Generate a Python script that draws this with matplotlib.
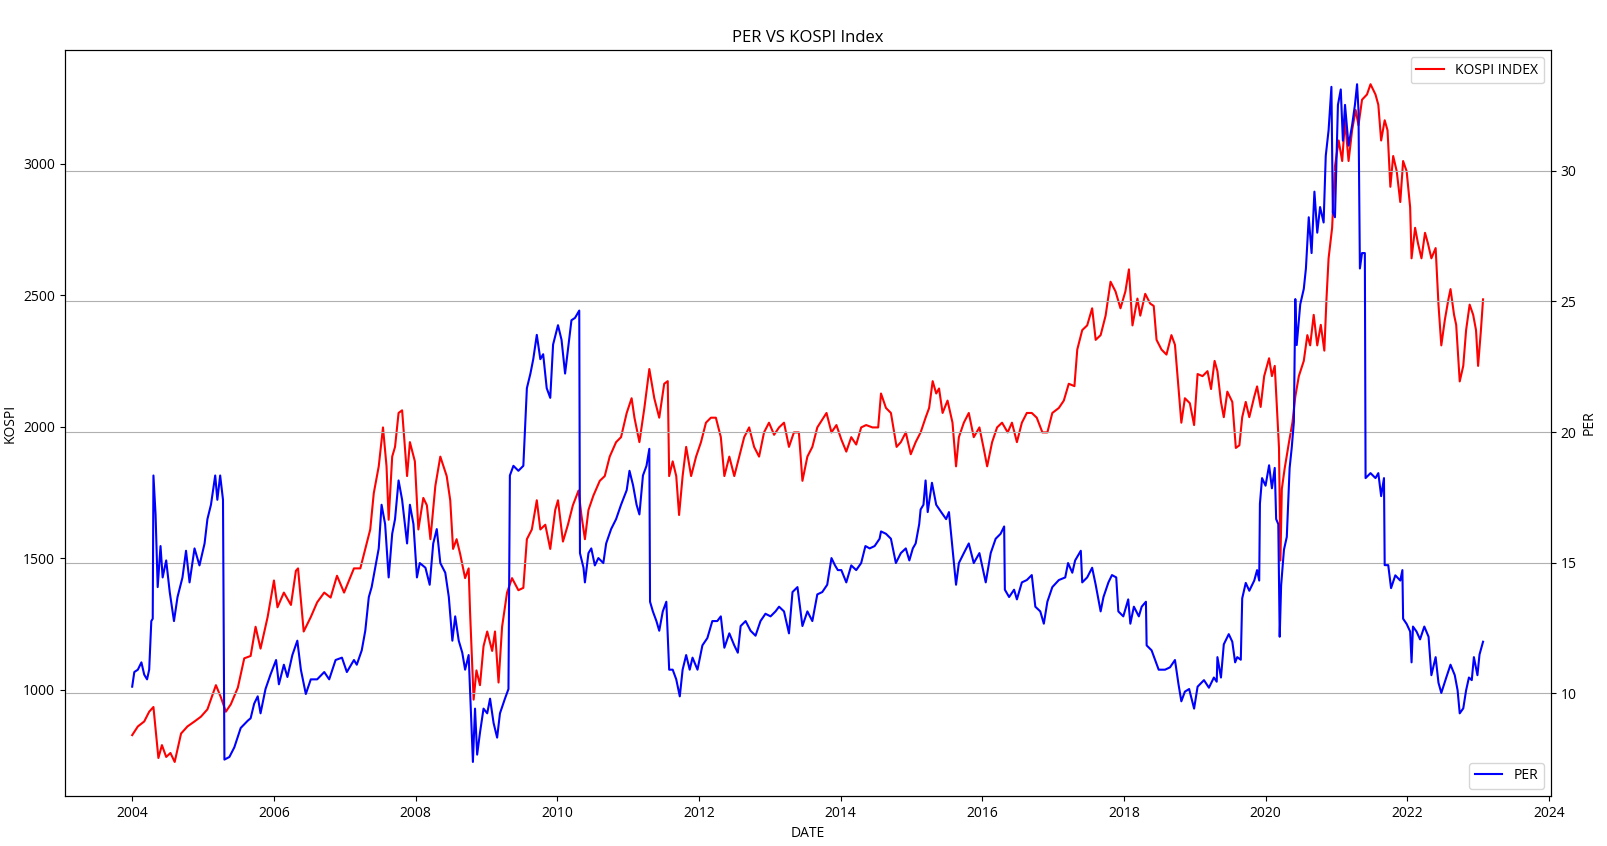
import numpy as np
import pandas as pd
import matplotlib
matplotlib.use("Agg")
import matplotlib.pyplot as plt
import matplotlib.dates as mdates

plt.rcParams['font.family'] = ['Open Sans', 'DejaVu Sans']

# KOSPI index (decimal year, value)
kospi_t = [2004.00, 2004.08, 2004.17, 2004.24, 2004.30, 2004.37, 2004.42, 2004.48, 2004.54, 2004.60,
           2004.69, 2004.78, 2004.88, 2004.97, 2005.06, 2005.18, 2005.25, 2005.32, 2005.39, 2005.49,
           2005.58, 2005.67, 2005.74, 2005.81, 2005.91, 2006.00, 2006.05, 2006.14, 2006.24, 2006.31,
           2006.34, 2006.42, 2006.52, 2006.61, 2006.71, 2006.80, 2006.89, 2006.99, 2007.13, 2007.22,
           2007.29, 2007.36, 2007.41, 2007.48, 2007.54, 2007.59, 2007.62, 2007.67, 2007.71, 2007.76,
           2007.81, 2007.88, 2007.92, 2007.99, 2008.04, 2008.11, 2008.16, 2008.21, 2008.28, 2008.35,
           2008.44, 2008.49, 2008.53, 2008.58, 2008.63, 2008.70, 2008.75, 2008.77, 2008.82, 2008.86,
           2008.91, 2008.96, 2009.01, 2009.08, 2009.12, 2009.17, 2009.22, 2009.29, 2009.36, 2009.45,
           2009.52, 2009.57, 2009.64, 2009.71, 2009.76, 2009.83, 2009.90, 2009.97, 2010.01, 2010.08,
           2010.15, 2010.22, 2010.30, 2010.34, 2010.39, 2010.44, 2010.51, 2010.60, 2010.67, 2010.74,
           2010.83, 2010.90, 2010.98, 2011.05, 2011.09, 2011.16, 2011.23, 2011.30, 2011.37, 2011.44,
           2011.51, 2011.56, 2011.58, 2011.63, 2011.68, 2011.72, 2011.77, 2011.82, 2011.89, 2011.96,
           2012.03, 2012.10, 2012.17, 2012.24, 2012.31, 2012.36, 2012.43, 2012.50, 2012.57, 2012.64,
           2012.71, 2012.78, 2012.85, 2012.92, 2012.99, 2013.06, 2013.13, 2013.20, 2013.27, 2013.34,
           2013.41, 2013.46, 2013.53, 2013.60, 2013.67, 2013.80, 2013.87, 2013.94, 2014.01, 2014.08,
           2014.15, 2014.22, 2014.29, 2014.36, 2014.45, 2014.53, 2014.57, 2014.64, 2014.71, 2014.79,
           2014.85, 2014.92, 2014.99, 2015.06, 2015.13, 2015.20, 2015.25, 2015.30, 2015.35, 2015.39,
           2015.44, 2015.51, 2015.58, 2015.63, 2015.67, 2015.74, 2015.81, 2015.88, 2015.96, 2016.03,
           2016.07, 2016.14, 2016.21, 2016.28, 2016.36, 2016.42, 2016.49, 2016.56, 2016.63, 2016.70,
           2016.77, 2016.85, 2016.92, 2016.99, 2017.08, 2017.15, 2017.22, 2017.30, 2017.34, 2017.41,
           2017.48, 2017.55, 2017.60, 2017.67, 2017.74, 2017.81, 2017.88, 2017.95, 2018.02, 2018.07,
           2018.12, 2018.19, 2018.23, 2018.30, 2018.37, 2018.42, 2018.46, 2018.53, 2018.60, 2018.67,
           2018.72, 2018.77, 2018.81, 2018.86, 2018.93, 2018.99, 2019.04, 2019.11, 2019.18, 2019.23,
           2019.28, 2019.32, 2019.37, 2019.41, 2019.46, 2019.53, 2019.58, 2019.63, 2019.67, 2019.72,
           2019.77, 2019.84, 2019.88, 2019.93, 2019.98, 2020.05, 2020.09, 2020.13, 2020.16, 2020.19,
           2020.21, 2020.23, 2020.27, 2020.33, 2020.38, 2020.42, 2020.47, 2020.54, 2020.59, 2020.63,
           2020.68, 2020.73, 2020.78, 2020.83, 2020.86, 2020.89, 2020.94, 2020.98, 2021.03, 2021.08,
           2021.12, 2021.17, 2021.22, 2021.27, 2021.31, 2021.36, 2021.43, 2021.48, 2021.55, 2021.59,
           2021.63, 2021.68, 2021.72, 2021.76, 2021.80, 2021.85, 2021.90, 2021.94, 2021.99, 2022.04,
           2022.06, 2022.11, 2022.15, 2022.20, 2022.25, 2022.29, 2022.34, 2022.40, 2022.44, 2022.48,
           2022.53, 2022.58, 2022.61, 2022.66, 2022.69, 2022.74, 2022.79, 2022.83, 2022.88, 2022.93,
           2022.97, 2023.00, 2023.04, 2023.07]
kospi_v = [828, 861, 880, 917, 935, 741, 790, 745, 760, 726,
           834, 861, 880, 898, 926, 1018, 972, 917, 945, 1009,
           1120, 1129, 1240, 1157, 1277, 1416, 1314, 1370, 1323, 1453,
           1462, 1222, 1277, 1333, 1370, 1351, 1434, 1370, 1462, 1462,
           1536, 1610, 1748, 1850, 1998, 1850, 1647, 1887, 1924, 2053,
           2063, 1813, 1942, 1869, 1610, 1730, 1702, 1573, 1776, 1887,
           1813, 1721, 1536, 1573, 1517, 1425, 1462, 1296, 963, 1074,
           1018, 1166, 1222, 1148, 1222, 1028, 1240, 1370, 1425, 1379,
           1388, 1573, 1610, 1721, 1610, 1628, 1536, 1684, 1721, 1564,
           1628, 1702, 1758, 1665, 1573, 1684, 1739, 1795, 1813, 1887,
           1942, 1961, 2053, 2109, 2035, 1942, 2072, 2220, 2109, 2035,
           2164, 2174, 1813, 1869, 1813, 1665, 1813, 1924, 1813, 1887,
           1942, 2016, 2035, 2035, 1961, 1813, 1887, 1813, 1887, 1961,
           1998, 1924, 1887, 1979, 2016, 1970, 1998, 2016, 1924, 1979,
           1979, 1795, 1887, 1924, 1998, 2053, 1979, 2007, 1952, 1906,
           1961, 1933, 1998, 2007, 1998, 1998, 2127, 2072, 2053, 1924,
           1942, 1979, 1896, 1942, 1979, 2035, 2072, 2174, 2127, 2146,
           2053, 2100, 2016, 1850, 1961, 2016, 2053, 1961, 1998, 1906,
           1850, 1942, 1998, 2016, 1979, 2016, 1942, 2016, 2053, 2053,
           2035, 1979, 1979, 2053, 2072, 2100, 2164, 2155, 2294, 2368,
           2386, 2451, 2331, 2349, 2423, 2552, 2515, 2451, 2515, 2599,
           2386, 2488, 2423, 2506, 2469, 2460, 2331, 2294, 2275, 2349,
           2312, 2146, 2016, 2109, 2090, 2007, 2201, 2193, 2212, 2144,
           2251, 2212, 2095, 2037, 2134, 2095, 1920, 1930, 2037, 2095,
           2037, 2115, 2154, 2076, 2193, 2261, 2193, 2232, 2076, 1920,
           1492, 1764, 1842, 1940, 2017, 2115, 2193, 2251, 2349, 2310,
           2426, 2310, 2388, 2290, 2485, 2641, 2757, 2991, 3089, 3011,
           3166, 3011, 3128, 3205, 3147, 3244, 3264, 3303, 3264, 3225,
           3089, 3166, 3128, 2913, 3030, 2972, 2855, 3011, 2972, 2835,
           2641, 2757, 2699, 2641, 2738, 2699, 2641, 2680, 2465, 2310,
           2407, 2485, 2524, 2426, 2388, 2173, 2232, 2368, 2465, 2426,
           2368, 2232, 2368, 2485]

# KOSPI PER (decimal year, value)
per_t = [2004.00, 2004.03, 2004.08, 2004.13, 2004.17, 2004.21, 2004.24, 2004.27, 2004.29, 2004.30,
         2004.33, 2004.36, 2004.40, 2004.43, 2004.48, 2004.53, 2004.59, 2004.64, 2004.71, 2004.76,
         2004.81, 2004.88, 2004.95, 2005.02, 2005.06, 2005.11, 2005.17, 2005.20, 2005.24, 2005.28,
         2005.30, 2005.37, 2005.44, 2005.53, 2005.63, 2005.67, 2005.72, 2005.77, 2005.81, 2005.88,
         2005.95, 2006.03, 2006.07, 2006.14, 2006.19, 2006.26, 2006.33, 2006.38, 2006.45, 2006.52,
         2006.61, 2006.71, 2006.78, 2006.87, 2006.96, 2007.03, 2007.13, 2007.17, 2007.24, 2007.29,
         2007.34, 2007.38, 2007.43, 2007.48, 2007.52, 2007.57, 2007.62, 2007.67, 2007.71, 2007.76,
         2007.81, 2007.88, 2007.92, 2007.97, 2008.02, 2008.06, 2008.14, 2008.20, 2008.25, 2008.30,
         2008.35, 2008.42, 2008.47, 2008.52, 2008.56, 2008.61, 2008.66, 2008.70, 2008.75, 2008.78,
         2008.81, 2008.84, 2008.87, 2008.91, 2008.96, 2009.01, 2009.05, 2009.10, 2009.15, 2009.19,
         2009.26, 2009.31, 2009.33, 2009.38, 2009.45, 2009.52, 2009.57, 2009.62, 2009.66, 2009.71,
         2009.76, 2009.80, 2009.85, 2009.90, 2009.94, 2010.01, 2010.06, 2010.11, 2010.15, 2010.20,
         2010.25, 2010.31, 2010.32, 2010.37, 2010.39, 2010.44, 2010.48, 2010.53, 2010.58, 2010.65,
         2010.69, 2010.76, 2010.83, 2010.90, 2010.98, 2011.02, 2011.07, 2011.12, 2011.16, 2011.21,
         2011.26, 2011.30, 2011.31, 2011.35, 2011.40, 2011.44, 2011.49, 2011.54, 2011.58, 2011.63,
         2011.68, 2011.73, 2011.77, 2011.82, 2011.87, 2011.91, 2011.98, 2012.05, 2012.12, 2012.19,
         2012.26, 2012.31, 2012.36, 2012.43, 2012.50, 2012.55, 2012.59, 2012.66, 2012.73, 2012.80,
         2012.87, 2012.94, 2013.01, 2013.08, 2013.13, 2013.20, 2013.27, 2013.32, 2013.39, 2013.46,
         2013.53, 2013.60, 2013.67, 2013.74, 2013.81, 2013.87, 2013.92, 2013.96, 2014.01, 2014.08,
         2014.15, 2014.22, 2014.29, 2014.35, 2014.41, 2014.48, 2014.55, 2014.57, 2014.64, 2014.71,
         2014.78, 2014.85, 2014.92, 2014.97, 2015.02, 2015.06, 2015.11, 2015.13, 2015.17, 2015.20,
         2015.23, 2015.29, 2015.35, 2015.42, 2015.49, 2015.53, 2015.58, 2015.63, 2015.67, 2015.74,
         2015.81, 2015.88, 2015.96, 2016.05, 2016.12, 2016.19, 2016.26, 2016.31, 2016.32, 2016.38,
         2016.45, 2016.49, 2016.56, 2016.63, 2016.70, 2016.75, 2016.82, 2016.87, 2016.92, 2016.99,
         2017.08, 2017.17, 2017.21, 2017.27, 2017.31, 2017.39, 2017.41, 2017.48, 2017.55, 2017.60,
         2017.67, 2017.71, 2017.78, 2017.83, 2017.89, 2017.92, 2017.99, 2018.06, 2018.09, 2018.14,
         2018.21, 2018.25, 2018.31, 2018.32, 2018.39, 2018.44, 2018.49, 2018.58, 2018.65, 2018.72,
         2018.77, 2018.81, 2018.86, 2018.92, 2018.99, 2019.04, 2019.13, 2019.20, 2019.27, 2019.31,
         2019.32, 2019.37, 2019.41, 2019.48, 2019.53, 2019.57, 2019.60, 2019.65, 2019.67, 2019.72,
         2019.77, 2019.84, 2019.88, 2019.91, 2019.92, 2019.95, 2020.00, 2020.05, 2020.09, 2020.13,
         2020.15, 2020.18, 2020.20, 2020.22, 2020.26, 2020.30, 2020.34, 2020.37, 2020.40, 2020.42,
         2020.44, 2020.49, 2020.54, 2020.57, 2020.61, 2020.65, 2020.69, 2020.73, 2020.77, 2020.82,
         2020.85, 2020.89, 2020.93, 2020.95, 2020.98, 2021.02, 2021.06, 2021.09, 2021.12, 2021.17,
         2021.22, 2021.26, 2021.29, 2021.31, 2021.33, 2021.36, 2021.40, 2021.41, 2021.48, 2021.55,
         2021.59, 2021.63, 2021.67, 2021.68, 2021.73, 2021.77, 2021.83, 2021.90, 2021.93, 2021.94,
         2021.99, 2022.04, 2022.06, 2022.08, 2022.13, 2022.18, 2022.24, 2022.30, 2022.34, 2022.40,
         2022.44, 2022.48, 2022.55, 2022.61, 2022.67, 2022.71, 2022.74, 2022.79, 2022.83, 2022.87,
         2022.91, 2022.94, 2022.99, 2023.02, 2023.07]
per_v = [10.26, 10.82, 10.91, 11.19, 10.72, 10.54, 10.91, 12.77, 12.86, 18.34,
         16.85, 14.07, 15.64, 14.44, 15.09, 13.88, 12.77, 13.69, 14.44, 15.46,
         14.25, 15.55, 14.90, 15.74, 16.67, 17.22, 18.34, 17.41, 18.34, 17.41,
         7.47, 7.57, 7.94, 8.68, 8.96, 9.05, 9.61, 9.89, 9.24, 10.17,
         10.72, 11.28, 10.35, 11.10, 10.63, 11.47, 12.02, 10.91, 9.98, 10.54,
         10.54, 10.82, 10.54, 11.28, 11.37, 10.82, 11.28, 11.10, 11.65, 12.40,
         13.69, 14.07, 14.81, 15.55, 17.22, 16.48, 14.44, 16.11, 16.67, 18.15,
         17.41, 15.74, 17.22, 16.48, 14.44, 14.99, 14.81, 14.16, 15.74, 16.29,
         14.99, 14.62, 13.69, 12.02, 12.95, 12.02, 11.56, 10.91, 11.47, 9.42,
         7.38, 9.42, 7.66, 8.50, 9.42, 9.24, 9.80, 8.87, 8.31, 9.24,
         9.80, 10.17, 18.34, 18.71, 18.52, 18.71, 21.68, 22.24, 22.79, 23.72,
         22.79, 22.98, 21.68, 21.31, 23.35, 24.09, 23.53, 22.24, 23.16, 24.28,
         24.37, 24.65, 15.37, 14.81, 14.25, 15.37, 15.55, 14.90, 15.18, 14.99,
         15.74, 16.29, 16.67, 17.22, 17.78, 18.52, 17.97, 17.22, 16.85, 18.34,
         18.71, 19.36, 13.51, 13.14, 12.77, 12.40, 13.14, 13.51, 10.91, 10.91,
         10.54, 9.89, 10.91, 11.47, 10.91, 11.37, 10.91, 11.84, 12.12, 12.77,
         12.77, 12.95, 11.75, 12.30, 11.84, 11.56, 12.58, 12.77, 12.40, 12.21,
         12.77, 13.05, 12.95, 13.14, 13.32, 13.14, 12.30, 13.88, 14.07, 12.58,
         13.14, 12.77, 13.79, 13.88, 14.16, 15.18, 14.90, 14.72, 14.72, 14.25,
         14.90, 14.72, 14.99, 15.64, 15.55, 15.64, 15.92, 16.20, 16.11, 15.92,
         14.99, 15.37, 15.55, 15.09, 15.55, 15.74, 16.48, 17.04, 17.22, 18.15,
         16.94, 18.06, 17.22, 16.94, 16.67, 16.94, 15.55, 14.16, 14.99, 15.37,
         15.74, 14.99, 15.37, 14.25, 15.37, 15.92, 16.11, 16.39, 13.97, 13.69,
         13.97, 13.60, 14.25, 14.34, 14.53, 13.32, 13.14, 12.67, 13.51, 14.07,
         14.34, 14.44, 14.99, 14.62, 15.09, 15.46, 14.25, 14.44, 14.81, 14.16,
         13.14, 13.69, 14.25, 14.53, 14.44, 13.14, 12.95, 13.60, 12.67, 13.32,
         12.95, 13.32, 13.51, 11.84, 11.65, 11.28, 10.91, 10.91, 11.00, 11.28,
         10.35, 9.70, 10.07, 10.17, 9.42, 10.26, 10.51, 10.22, 10.61, 10.45,
         11.39, 10.61, 11.88, 12.27, 11.98, 11.19, 11.39, 11.29, 13.64, 14.23,
         13.93, 14.32, 14.72, 14.32, 17.26, 18.24, 17.95, 18.73, 17.85, 18.63,
         16.67, 16.48, 12.17, 14.13, 15.50, 15.99, 18.63, 19.41, 20.39, 25.09,
         23.33, 24.89, 25.48, 26.26, 28.22, 26.85, 29.20, 27.63, 28.61, 28.02,
         30.57, 31.55, 33.21, 28.41, 28.22, 32.52, 33.11, 31.15, 32.52, 30.96,
         31.74, 32.52, 33.31, 32.33, 26.26, 26.85, 26.85, 18.24, 18.43, 18.24,
         18.43, 17.55, 18.24, 14.91, 14.91, 14.03, 14.52, 14.32, 14.72, 12.86,
         12.66, 12.37, 11.19, 12.56, 12.37, 12.07, 12.56, 12.17, 10.70, 11.39,
         10.41, 10.02, 10.61, 11.10, 10.70, 10.12, 9.24, 9.43, 10.12, 10.61,
         10.51, 11.39, 10.70, 11.49, 11.98]


def to_dates(years):
    years = np.asarray(years)
    base = pd.to_datetime(np.floor(years).astype(int).astype(str), format="%Y")
    return base + pd.to_timedelta((years - np.floor(years)) * 365.25, unit="D")


kospi_dates = to_dates(kospi_t)
per_dates = to_dates(per_t)

fig, ax1 = plt.subplots(figsize=(16.08, 8.46), dpi=100)
fig.subplots_adjust(left=0.0402, right=0.9643, top=0.9405, bottom=0.0593)

ax1.plot(kospi_dates, kospi_v, color='red', label="KOSPI INDEX")
ax1.set_xlabel("DATE")
ax1.set_ylabel("KOSPI")
ax1.legend(loc="upper right")

ax2 = ax1.twinx()
ax2.plot(per_dates, per_v, color='blue', label="PER")
ax2.set_ylabel("PER")
ax2.legend(loc="lower right")
ax2.grid(True)

ax1.xaxis.set_major_locator(mdates.YearLocator(2))
ax1.xaxis.set_major_formatter(mdates.DateFormatter("%Y"))

plt.title("PER VS KOSPI Index")
plt.savefig("out.png")
